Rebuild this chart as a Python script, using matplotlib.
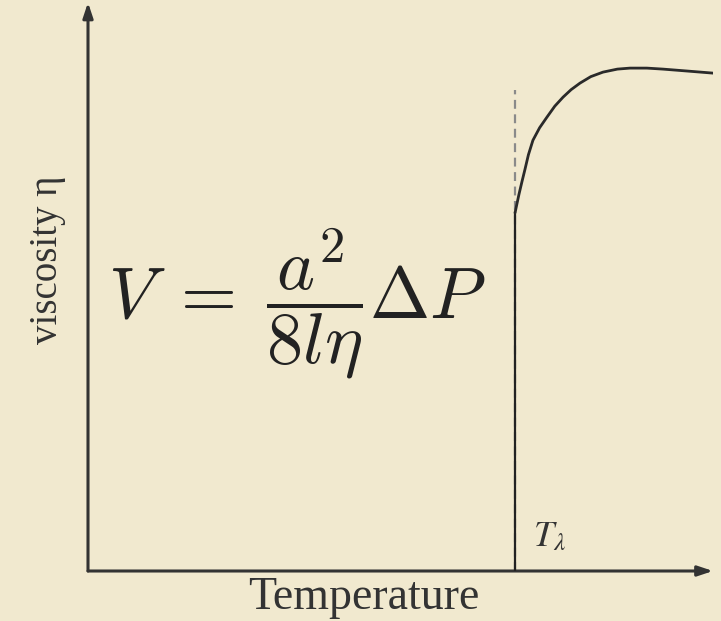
import matplotlib
matplotlib.use("Agg")
import matplotlib.pyplot as plt

# Viscosity of liquid helium across the lambda point (arbitrary units)
T_lambda = 2.17
temperature = [2.170, 2.178, 2.190, 2.205, 2.220, 2.238, 2.261, 2.295, 2.332,
               2.372, 2.414, 2.455, 2.500, 2.555, 2.617, 2.690, 2.754, 2.840,
               2.922, 3.050, 3.176]
viscosity = [0.715, 0.730, 0.752, 0.777, 0.801, 0.831, 0.860, 0.885, 0.906,
             0.928, 0.946, 0.961, 0.974, 0.987, 0.996, 1.002, 1.004, 1.004,
             1.002, 0.998, 0.994]
dashed_top = 0.96

x_label = "Temperature"
y_label = "viscosity \u03b7"
formula = r"$V\;=\;\dfrac{a^2}{8l\eta}\Delta P$"
lambda_label = r"$T_\lambda$"

bg = "#f1e9cf"
ink = "#333333"

fig = plt.figure(figsize=(7.21, 6.21), dpi=100, facecolor=bg)
ax = fig.add_axes([88 / 721, 50 / 621, 625 / 721, 566 / 621])
ax.set_facecolor(bg)
ax.set_xlim(0, 3.176)
ax.set_ylim(0, 1.13)
for s in ax.spines.values():
    s.set_visible(False)
ax.set_xticks([])
ax.set_yticks([])

# Axes with arrowheads
arrow = dict(arrowstyle="-|>,head_length=0.9,head_width=0.3",
             color=ink, lw=2.2, shrinkA=0, shrinkB=0)
ax.annotate("", xy=(3.176, 0), xytext=(0, 0), arrowprops=arrow,
            annotation_clip=False)
ax.annotate("", xy=(0, 1.135), xytext=(0, 0), arrowprops=arrow,
            annotation_clip=False)

# Lambda point: dashed guide and the sharp drop
ax.plot([T_lambda, T_lambda], [0, dashed_top], color="#8a8a8a", lw=1.6,
        ls=(0, (4, 2.5)), zorder=2)
ax.plot([T_lambda, T_lambda], [0, viscosity[0]], color="#222222", lw=1.6,
        zorder=3)
ax.plot(temperature, viscosity, color="#2a2a2a", lw=2.0, zorder=3,
        solid_capstyle="round", solid_joinstyle="round")

ax.text(T_lambda + 0.09, 0.035, lambda_label, fontsize=26, color=ink,
        math_fontfamily="stix", ha="left", va="bottom")

fig.text(364 / 721, 1 - 598 / 621, x_label, fontsize=33, color=ink,
         family="Liberation Serif", ha="center", va="center")
fig.text(47 / 721, 1 - 260 / 621, y_label, fontsize=28, color=ink,
         family="Liberation Serif", rotation=90, ha="center", va="center")
fig.text(297 / 721, 1 - 304 / 621, formula, fontsize=52, color="#222222",
         math_fontfamily="cm", ha="center", va="center")

fig.savefig("out.png", dpi=100, facecolor=bg)
